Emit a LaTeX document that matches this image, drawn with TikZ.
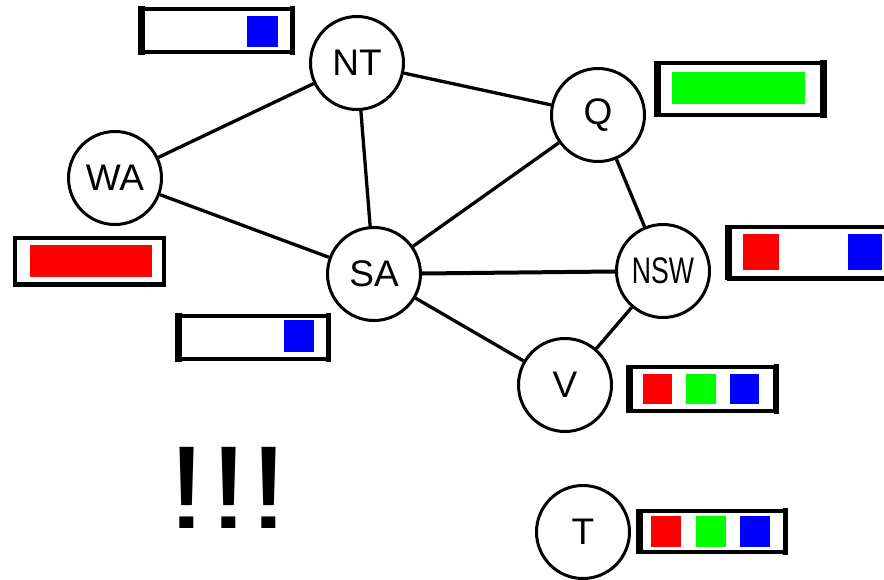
\documentclass[tikz,border=0pt]{standalone}
\usepackage{fontspec}
\setmainfont{Liberation Sans}
\begin{document}
\begin{tikzpicture}[x=1pt,y=-1pt,
  state/.style={circle,draw,line width=3pt,minimum size=93pt,inner sep=0pt,font=\fontsize{37}{40}\selectfont},
  edge/.style={line width=3.3pt},
  frame/.style={draw,line width=3.5pt},
  thickside/.style={line width=7pt},
  excl/.style={inner sep=0pt,anchor=base,font=\fontsize{118}{120}\selectfont}]
\useasboundingbox (0,0) rectangle (884,580);
\clip (0,0) rectangle (884,580);
\definecolor{cred}{RGB}{255,0,0}
\definecolor{cgreen}{RGB}{0,255,0}
\definecolor{cblue}{RGB}{0,0,255}

% nodes
\node[state] (NT) at (357,63) {NT};
\node[state] (Q) at (598,115) {Q};
\node[state] (WA) at (115,178) {WA};
\node[state] (SA) at (374,274) {SA};
\node[state] (NSW) at (663,271) {\fontsize{37}{40}\selectfont\scalebox{0.72}[1]{NSW}};
\node[state] (V) at (565,385) {V};
\node[state] (T) at (583,532) {T};

% edges
\draw[edge] (WA) -- (NT);
\draw[edge] (WA) -- (SA);
\draw[edge] (NT) -- (SA);
\draw[edge] (NT) -- (Q);
\draw[edge] (SA) -- (Q);
\draw[edge,line width=4pt] (SA) -- (NSW);
\draw[edge] (SA) -- (V);
\draw[edge] (Q) -- (NSW);
\draw[edge] (NSW) -- (V);

% domain boxes
% NT
\draw[frame] (140,9) rectangle (292,52);
\draw[thickside] (141,6) -- (141,55);
\draw[line width=5pt] (292,6) -- (292,55);
\fill[cblue] (247,16) rectangle (278,47);
% Q
\draw[frame] (656,63) rectangle (823,115);
\draw[thickside] (657,62) -- (657,116);
\draw[thickside] (823,60) -- (823,118);
\fill[cgreen] (672,72) rectangle (805,104);
% NSW
\draw[frame] (727,227) rectangle (892,278);
\draw[thickside] (728,226) -- (728,280);
\draw[line width=5pt] (727,279) -- (892,279);
\fill[cred] (743,234) rectangle (779,270);
\fill[cblue] (848,234) rectangle (882,270);
% V
\draw[frame] (628,367) rectangle (775,411);
\draw[thickside] (629,365) -- (629,413);
\draw[line width=5pt] (776,364) -- (776,414);
\fill[cred] (643,374) rectangle (672,404);
\fill[cgreen] (686,374) rectangle (716,404);
\fill[cblue] (730,374) rectangle (759,404);
% WA
\draw[frame] (15,238) rectangle (164,285);
\draw[line width=5pt] (14,285) -- (165,285);
\fill[cred] (30,245) rectangle (152,277);
% SA
\draw[frame] (177,316) rectangle (328,359);
\draw[thickside] (178,313) -- (178,362);
\draw[line width=5pt] (328,313) -- (328,362);
\fill[cblue] (284,320) rectangle (314,352);
% T
\draw[frame] (638,511) rectangle (785,552);
\draw[thickside] (639,509) -- (639,554);
\draw[line width=5pt] (785,508) -- (785,555);
\fill[cred] (651,516) rectangle (681,547);
\fill[cgreen] (696,516) rectangle (726,547);
\fill[cblue] (740,516) rectangle (770,547);

% exclamation marks
\node[excl] (ex1) at (187,528) {\scalebox{1.25}[1]{!}};
\node[excl] (ex2) at (229,528) {\scalebox{1.25}[1]{!}};
\node[excl] (ex3) at (269,528) {\scalebox{1.25}[1]{!}};
\end{tikzpicture}
\end{document}
